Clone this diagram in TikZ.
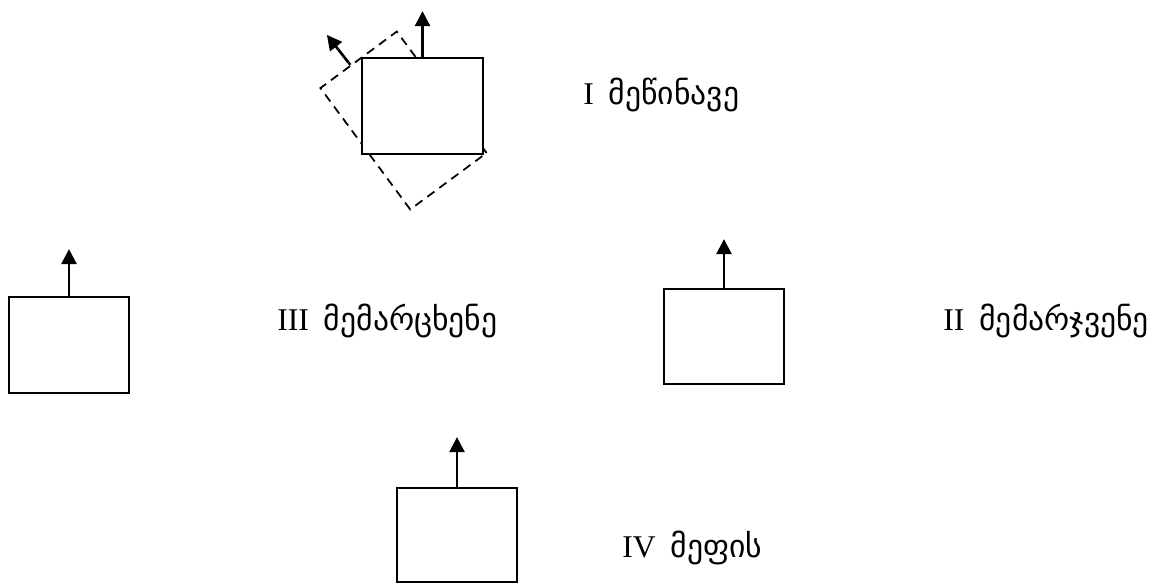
\documentclass[tikz,border=0pt]{standalone}
\usepackage{fontspec}
\setmainfont{Liberation Serif}
\newfontfamily\geofont{DejaVu Sans}
\usetikzlibrary{arrows.meta,calc}

\tikzset{
    player/.style={draw, line width=1pt, fill=white, minimum width=2.4cm, minimum height=1.92cm, inner sep=0pt},
    facing/.style={-{Triangle[length=8.5pt,width=8.5pt]}, line width=1.5pt},
    caption/.style={anchor=base west, inner sep=0pt, font=\fontsize{18}{21}\selectfont}
}

\begin{document}
\begin{tikzpicture}
    \useasboundingbox (0,0) rectangle (23.08,-11.66);

    % Draw the turned outline behind the front player
    \node[player, dash pattern=on 5pt off 3.5pt, fill=none, rotate=-53.5, minimum width=3.02cm, minimum height=1.9cm] (tilt) at (8.07,-2.41) {};
    \node[player, minimum width=2.42cm] (front) at (8.45,-2.12) {};

    % Draw the facing arrows of the front player
    \coordinate (frontTip) at ($(front.north)+(0,0.92)$);
    \draw[facing] (front.north) -- (frontTip);
    \coordinate (tiltTail) at ($(tilt.west)!0.2!(tilt.south west)$);
    \coordinate (tiltTip) at ($(tiltTail)+(128:0.76)$);
    \draw[facing] (tiltTail) -- (tiltTip);

    % Draw the left, right and back players
    \node[player] (left) at (1.38,-6.9) {};
    \node[player, minimum height=1.9cm] (right) at (14.48,-6.73) {};
    \node[player, minimum height=1.88cm] (back) at (9.14,-10.7) {};
    \coordinate (leftTip) at ($(left.north)+(0,0.94)$);
    \coordinate (rightTip) at ($(right.north)+(0,0.98)$);
    \coordinate (backTip) at ($(back.north)+(0,1.0)$);
    \draw[facing] (left.north) -- (leftTip);
    \draw[facing] (right.north) -- (rightTip);
    \draw[facing] (back.north) -- (backTip);

    % Add the labels
    \node[caption] (frontLabel) at (11.66,-2.08) {I\hspace{0.3cm}{\geofont მეწინავე}};
    \node[caption] (leftLabel) at (5.54,-6.6) {III\hspace{0.3cm}{\geofont მემარცხენე}};
    \node[caption] (rightLabel) at (18.86,-6.6) {II\hspace{0.3cm}{\geofont მემარჯვენე}};
    \node[caption] (backLabel) at (12.44,-11.14) {IV\hspace{0.3cm}{\geofont მეფის}};
\end{tikzpicture}
\end{document}
